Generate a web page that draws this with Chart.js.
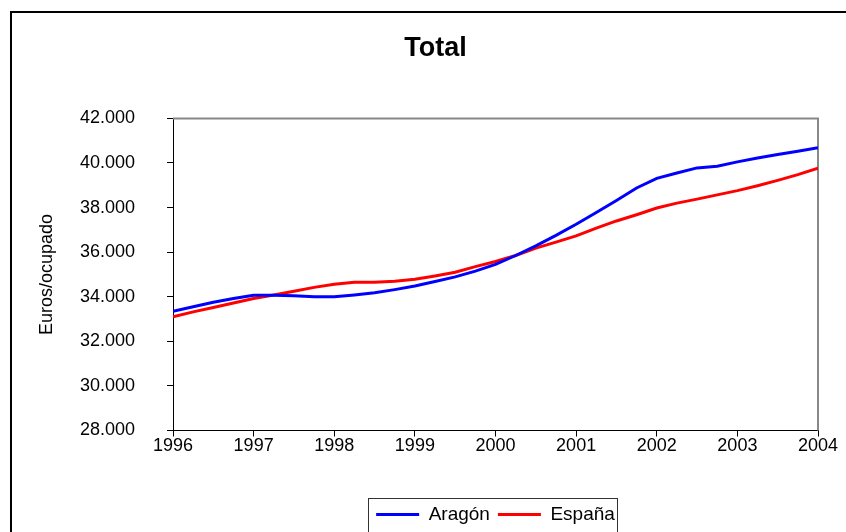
<!DOCTYPE html>
<html lang="es">
<head>
<meta charset="utf-8">
<title>Total</title>
<script src="https://cdn.jsdelivr.net/npm/chart.js@4.4.1/dist/chart.umd.min.js"></script>
<style>
  html, body { margin: 0; padding: 0; background: #fff; }
  #caja { width: 846px; height: 532px; }
</style>
</head>
<body>
<div id="caja"><canvas id="grafico"></canvas></div>
<script>
// Trimestres, de 1996 T1 a 2004 T1
const trimestres = [
  1996, 1996.25, 1996.5, 1996.75,
  1997, 1997.25, 1997.5, 1997.75,
  1998, 1998.25, 1998.5, 1998.75,
  1999, 1999.25, 1999.5, 1999.75,
  2000, 2000.25, 2000.5, 2000.75,
  2001, 2001.25, 2001.5, 2001.75,
  2002, 2002.25, 2002.5, 2002.75,
  2003, 2003.25, 2003.5, 2003.75,
  2004
];

// Euros por ocupado
const aragon = [
  33350, 33550, 33750, 33920,
  34070, 34070, 34050, 34000,
  34000, 34080, 34180, 34320,
  34480, 34680, 34890, 35150,
  35450, 35850, 36280, 36750,
  37250, 37780, 38320, 38880,
  39310, 39550, 39780, 39850,
  40050, 40220, 40380, 40530,
  40680
];
const espana = [
  33100, 33320, 33520, 33720,
  33920, 34080, 34250, 34420,
  34560, 34650, 34650, 34700,
  34780, 34930, 35100, 35350,
  35580, 35850, 36180, 36450,
  36730, 37080, 37400, 37680,
  37980, 38200, 38380, 38570,
  38760, 38980, 39220, 39480,
  39770
];

const ticksX = [1996, 1997, 1998, 1999, 2000, 2001, 2002, 2003, 2004];
const ticksY = [28000, 30000, 32000, 34000, 36000, 38000, 40000, 42000];

const fuente = '"Liberation Sans", Arial, sans-serif';
Chart.defaults.font.family = fuente;
Chart.defaults.color = '#000';

// marco exterior, borde gris del área de trazado y recuadro de la leyenda
const marcos = {
  id: 'marcos',
  beforeDraw(chart) {
    const ctx = chart.ctx;
    ctx.save();
    ctx.fillStyle = '#fff';
    ctx.fillRect(0, 0, chart.width, chart.height);
    ctx.strokeStyle = '#000';
    ctx.lineWidth = 2;
    ctx.strokeRect(11, 12, chart.width + 20, chart.height + 20);
    ctx.restore();
  },
  beforeDatasetsDraw(chart) {
    const { ctx, chartArea: a } = chart;
    ctx.save();
    ctx.strokeStyle = '#888';
    ctx.lineWidth = 2;
    ctx.beginPath();
    ctx.moveTo(a.left, a.top);
    ctx.lineTo(a.right, a.top);
    ctx.lineTo(a.right, a.bottom);
    ctx.stroke();
    ctx.restore();
  },
  afterDraw(chart) {
    const hb = chart.legend.legendHitBoxes;
    if (!hb || !hb.length) return;
    const ctx = chart.ctx;
    const ult = hb[hb.length - 1];
    const x0 = Math.round(hb[0].left - 8) + 0.5;
    const x1 = Math.round(ult.left + ult.width + 2) + 0.5;
    const y0 = Math.round(hb[0].top - 7) + 0.5;
    ctx.save();
    ctx.strokeStyle = '#333';
    ctx.lineWidth = 1;
    ctx.strokeRect(x0, y0, x1 - x0, 80);
    ctx.restore();
  }
};

new Chart(document.getElementById('grafico'), {
  type: 'line',
  data: {
    datasets: [
      {
        label: 'Aragón',
        data: trimestres.map((t, i) => ({ x: t, y: aragon[i] })),
        borderColor: '#0000ff',
        backgroundColor: '#0000ff'
      },
      {
        label: 'España',
        data: trimestres.map((t, i) => ({ x: t, y: espana[i] })),
        borderColor: '#ff0000',
        backgroundColor: '#ff0000'
      }
    ]
  },
  options: {
    responsive: true,
    maintainAspectRatio: false,
    devicePixelRatio: 1,
    animation: false,
    layout: { padding: { left: 53, right: 28, top: 0, bottom: -2 } },
    elements: {
      line: { borderWidth: 3, tension: 0 },
      point: { radius: 0, hoverRadius: 0 }
    },
    plugins: {
      title: {
        display: true,
        text: 'Total',
        color: '#000',
        font: { size: 27, weight: 'bold' },
        padding: { top: 32, bottom: 54 }
      },
      legend: {
        position: 'bottom',
        fullSize: false,
        labels: {
          boxWidth: 43,
          boxHeight: 3,
          padding: 8,
          color: '#000',
          font: { size: 19 },
          generateLabels: (chart) =>
            Chart.defaults.plugins.legend.labels.generateLabels(chart)
              .map(l => ({ ...l, lineWidth: 0 }))
        }
      },
      tooltip: { enabled: false }
    },
    scales: {
      x: {
        type: 'linear',
        min: 1996,
        max: 2004,
        afterBuildTicks: (s) => { s.ticks = ticksX.map(v => ({ value: v })); },
        afterFit: (s) => { s.height = 66.5; },
        ticks: {
          callback: (v) => String(v),
          color: '#000',
          font: { size: 18 },
          padding: -1,
          maxRotation: 0,
          autoSkip: false
        },
        grid: { drawOnChartArea: false, drawTicks: true, tickLength: 6, color: '#000' },
        border: { color: '#000', width: 1 }
      },
      y: {
        min: 28000,
        max: 42000,
        afterBuildTicks: (s) => { s.ticks = ticksY.map(v => ({ value: v })); },
        afterFit: (s) => { s.width = 120; },
        ticks: {
          callback: (v) => (v / 1000).toFixed(3),
          color: '#000',
          font: { size: 18 },
          padding: 32
        },
        title: {
          display: true,
          text: 'Euros/ocupado',
          color: '#000',
          font: { size: 18 },
          padding: { top: -17, bottom: 0 }
        },
        grid: { drawOnChartArea: false, drawTicks: true, tickLength: 6, color: '#000' },
        border: { color: '#000', width: 1 }
      }
    }
  },
  plugins: [marcos]
});
</script>
</body>
</html>
